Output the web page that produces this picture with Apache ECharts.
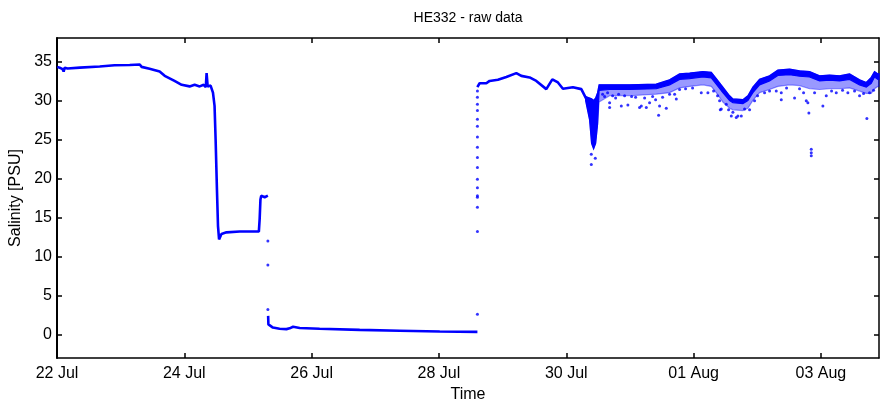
<!DOCTYPE html>
<html>
<head>
<meta charset="utf-8">
<script src="https://cdn.jsdelivr.net/npm/echarts@6/dist/echarts.min.js"></script>
<style>html,body{margin:0;padding:0;background:#fff}#c{width:880px;height:405px}</style>
</head>
<body>
<div id="c"></div>
<script>
// hours since 22 Jul 00:00
var startLabel = [2010, 6, 22];
var xTickHours = [0, 48, 96, 144, 192, 240, 288];
var yTicks = [0, 5, 10, 15, 20, 25, 30, 35];

// continuous trace, part 1 (22 Jul - 25 Jul)
var trace1Hours = [0.1, 1.0, 2.1, 2.5, 2.9, 4.0, 8.6, 16.1, 21.7, 27.4, 31.2, 31.9, 34.9, 38.7, 40.6, 44.3, 47.0, 50.0, 51.9, 53.8, 55.3, 56.1, 56.4, 56.8, 57.9, 58.8, 59.4, 59.8, 60.3, 60.7, 61.1, 62.0, 63.9, 68.9, 76.1, 76.4, 76.7, 77.0, 78.3, 79.5];
var trace1Values = [34.3, 34.2, 34.0, 33.7, 34.2, 34.1, 34.2, 34.35, 34.5, 34.55, 34.6, 34.3, 34.05, 33.7, 33.15, 32.5, 32.0, 31.8, 32.0, 31.8, 32.0, 31.7, 33.5, 31.8, 31.9, 31.0, 29.3, 25.0, 18.6, 13.9, 12.2, 12.9, 13.1, 13.2, 13.2, 14.8, 17.3, 17.8, 17.6, 17.8];

// continuous trace, part 2 (low salinity period)
var trace2Hours = [79.6, 79.7, 81.4, 83.9, 86.5, 87.7, 89.0, 91.5, 99.0, 114.1, 129.2, 144.3, 158.5];
var trace2Values = [2.4, 1.3, 0.9, 0.75, 0.7, 0.8, 1.0, 0.85, 0.75, 0.6, 0.5, 0.4, 0.35];

// continuous trace, part 3 (28 Jul - 30 Jul)
var trace3Hours = [158.47, 159.33, 161.86, 163.10, 166.23, 169.40, 173.17, 175.05, 178.18, 180.70, 184.47, 186.74, 188.85, 190.73, 194.50, 197.67, 199.55];
var trace3Values = [31.7, 32.2, 32.2, 32.5, 32.65, 33.0, 33.5, 33.15, 32.95, 32.5, 31.45, 32.7, 32.3, 31.5, 31.7, 31.45, 30.2];

// dense noisy band (30 Jul - end): upper edge, solid core bottom, scattered bottom
var bandHours = [199.29, 200.80, 201.55, 202.30, 203.06, 203.81, 204.38, 208.34, 215.87, 225.94, 230.95, 234.72, 238.49, 243.50, 246.67, 248.55, 251.04, 253.57, 254.81, 258.58, 260.47, 262.35, 264.88, 268.64, 271.77, 276.18, 279.95, 283.72, 287.49, 291.26, 295.03, 298.80, 302.57, 305.10, 306.98, 308.22, 309.47, 309.9];
var bandUpper = [30.5, 30.3, 30.2, 30.0, 30.3, 31.0, 32.0, 32.0, 32.0, 32.1, 32.65, 33.4, 33.5, 33.7, 33.6, 32.8, 31.7, 30.6, 30.2, 30.1, 30.6, 31.7, 32.7, 33.15, 33.9, 34.0, 33.8, 33.7, 33.15, 33.25, 33.15, 33.4, 32.65, 32.3, 32.95, 33.7, 33.4, 33.4];
var bandCore = [30.0, 27.5, 24.5, 23.8, 24.5, 27.0, 31.3, 31.4, 31.4, 31.5, 32.0, 32.7, 32.8, 33.0, 32.9, 32.1, 31.0, 30.0, 29.7, 29.6, 30.0, 31.0, 32.0, 32.5, 33.2, 33.3, 33.1, 33.0, 32.5, 32.6, 32.5, 32.7, 32.0, 31.7, 32.2, 33.0, 32.7, 32.7];
var bandLower = [30.0, 27.5, 24.5, 23.8, 24.5, 27.0, 29.8, 30.6, 30.6, 30.8, 31.0, 31.6, 31.8, 32.0, 31.8, 31.0, 29.8, 29.0, 28.8, 28.7, 29.0, 30.0, 31.0, 31.4, 31.8, 32.0, 31.9, 31.5, 31.4, 31.5, 31.5, 31.6, 31.2, 30.9, 30.9, 31.5, 31.8, 31.8];

// isolated points: sensor jumps and spikes
var dotHours = [79.5, 79.5, 79.5,
  158.5, 158.5, 158.5, 158.5, 158.5, 158.5, 158.5, 158.5, 158.5, 158.5, 158.5, 158.5, 158.5, 158.5, 158.5, 158.5, 158.5,
  201.43, 202.94, 201.43,
  205.70, 206.45, 207.58, 208.34, 208.34, 209.47, 210.60, 211.73, 212.75, 213.99, 215.23, 216.63, 218.14, 219.64, 220.28, 221.53, 222.17, 223.41, 224.55, 225.68, 226.81, 227.18, 228.31, 229.71, 230.95, 232.84, 233.48, 234.72, 236.98, 239.62, 242.90, 245.39, 247.54, 249.04, 249.80, 250.06, 250.44, 252.32, 253.19, 254.21, 254.81, 256.09, 256.70, 257.98, 259.22, 261.11, 262.99, 264.12, 266.76, 268.64, 271.17, 273.06, 273.06, 275.05, 278.07, 279.95, 281.46, 282.48, 283.08, 283.46, 284.36, 284.36, 284.36, 285.61, 288.74, 290.02, 292.02, 293.79, 296.16, 298.16, 300.68, 302.57, 304.08, 305.32, 306.34, 307.85];
var dotValues = [12.0, 8.9, 3.2,
  2.6, 13.2, 16.3, 17.6, 17.8, 18.8, 19.9, 21.4, 22.7, 24.0, 25.3, 26.7, 27.6, 28.7, 29.5, 30.4, 31.2,
  23.1, 22.6, 21.8,
  30.8, 30.5, 31.0, 29.7, 29.1, 30.6, 30.3, 30.8, 29.3, 30.6, 29.4, 30.5, 30.4, 29.1, 29.3, 30.3, 29.1, 29.7, 30.5, 30.1, 28.1, 29.3, 30.4, 29.0, 30.8, 30.8, 30.2, 31.4, 31.5, 31.6, 31.0, 31.0, 31.2, 30.6, 29.95, 28.8, 28.9, 29.5, 28.8, 28.0, 28.5, 27.8, 28.0, 28.0, 28.9, 28.8, 29.95, 30.6, 31.0, 31.2, 31.2, 31.0, 30.1, 31.6, 30.3, 31.5, 31.0, 29.95, 29.7, 28.4, 23.75, 23.3, 22.9, 31.0, 29.3, 30.6, 31.2, 31.0, 31.3, 31.0, 31.2, 30.6, 30.9, 27.7, 31.0, 31.3];

var MONTHS = ['Jan','Feb','Mar','Apr','May','Jun','Jul','Aug','Sep','Oct','Nov','Dec'];
var base = Date.UTC(startLabel[0], startLabel[1], startLabel[2]);
function fmtHour(h) {
  var d = new Date(base + h * 3600000);
  var dd = d.getUTCDate();
  return (dd < 10 ? '0' : '') + dd + ' ' + MONTHS[d.getUTCMonth()];
}
function zip(a, b) { return a.map(function (v, i) { return [v, b[i]]; }); }

var BLUE = '#0000ff';
var FONT = 'Liberation Sans, Arial, sans-serif';
var FS = 16;
var lineStyleAxis = { color: '#000', width: 1.5 };

function bandSeries(lowArr, fill) {
  return {
    type: 'custom', z: 3,
    data: [[bandHours[0], bandUpper[0]]],
    renderItem: function (params, api) {
      var pts = [];
      for (var i = 0; i < bandHours.length; i++) pts.push(api.coord([bandHours[i], bandUpper[i]]));
      for (var j = bandHours.length - 1; j >= 0; j--) pts.push(api.coord([bandHours[j], lowArr[j]]));
      return { type: 'polygon', shape: { points: pts }, style: { fill: fill, stroke: fill, lineWidth: 1.2 } };
    }
  };
}

var chart = echarts.init(document.getElementById('c'), null, { renderer: 'canvas' });
chart.setOption({
  animation: false,
  backgroundColor: '#fff',
  graphic: [{
    type: 'text', x: 468, y: 18,
    style: { text: 'HE332 - raw data', fill: '#000', font: '14px ' + FONT, textAlign: 'center', textVerticalAlign: 'middle' }
  }],
  grid: { left: 57, right: 1, top: 38, bottom: 47, containLabel: false, outerBoundsMode: 'none' },
  xAxis: [{
    type: 'value', min: 0, max: 309.9, position: 'bottom',
    name: 'Time', nameLocation: 'middle', nameGap: 27,
    nameTextStyle: { color: '#000', fontSize: FS, fontFamily: FONT },
    axisLine: { show: true, onZero: false, lineStyle: lineStyleAxis },
    axisTick: { show: true, inside: true, length: 5, customValues: xTickHours, lineStyle: { color: '#000', width: 1.5 } },
    axisLabel: { customValues: xTickHours, formatter: fmtHour, color: '#000', fontSize: FS, fontFamily: FONT, margin: 8 },
    splitLine: { show: false }
  }, {
    type: 'value', min: 0, max: 309.9, position: 'top',
    axisLine: { show: true, onZero: false, lineStyle: lineStyleAxis },
    axisTick: { show: true, inside: true, length: 5, customValues: xTickHours, lineStyle: { color: '#000', width: 1.5 } },
    axisLabel: { show: false },
    splitLine: { show: false }
  }],
  yAxis: [{
    type: 'value', min: -3, max: 38, position: 'left',
    name: 'Salinity [PSU]', nameLocation: 'middle', nameGap: 27, nameRotate: 90,
    nameTextStyle: { color: '#000', fontSize: FS, fontFamily: FONT },
    axisLine: { show: true, onZero: false, lineStyle: { color: '#000', width: 2 } },
    axisTick: { show: true, inside: true, length: 5, customValues: yTicks, lineStyle: { color: '#000', width: 1.5 } },
    axisLabel: { customValues: yTicks, color: '#000', fontSize: FS, fontFamily: FONT, margin: 5 },
    splitLine: { show: false }
  }, {
    type: 'value', min: -3, max: 38, position: 'right',
    axisLine: { show: true, onZero: false, lineStyle: lineStyleAxis },
    axisTick: { show: true, inside: true, length: 5, customValues: yTicks, lineStyle: { color: '#000', width: 1.5 } },
    axisLabel: { show: false },
    splitLine: { show: false }
  }],
  series: [
    { type: 'line', data: zip(trace1Hours, trace1Values), showSymbol: false, lineStyle: { color: BLUE, width: 2.6 }, z: 3 },
    { type: 'line', data: zip(trace2Hours, trace2Values), showSymbol: false, lineStyle: { color: BLUE, width: 2.6 }, z: 3 },
    { type: 'line', data: zip(trace3Hours, trace3Values), showSymbol: false, lineStyle: { color: BLUE, width: 2.6 }, z: 3 },
    bandSeries(bandLower, 'rgba(0,0,255,0.4)'),
    bandSeries(bandCore, BLUE),
    { type: 'scatter', data: zip(dotHours, dotValues), symbol: 'circle', symbolSize: 3, itemStyle: { color: BLUE }, z: 4 }
  ]
});
</script>
</body>
</html>
